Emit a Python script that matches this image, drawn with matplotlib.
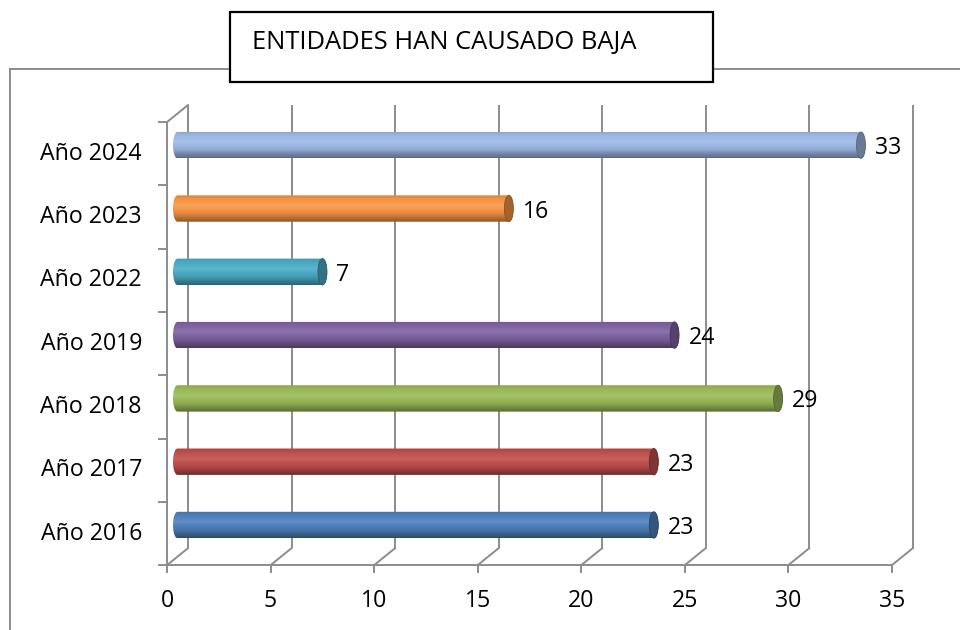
import numpy as np
import matplotlib
matplotlib.use("Agg")
import matplotlib.pyplot as plt
from matplotlib.patches import Rectangle, Ellipse, PathPatch
from matplotlib.path import Path
from matplotlib.lines import Line2D
from matplotlib.colors import to_rgb

# ---- data ----
categories = ["Año 2016", "Año 2017", "Año 2018", "Año 2019", "Año 2022", "Año 2023", "Año 2024"]
values = [23, 23, 29, 24, 7, 16, 33]
colors = ["#4F81BD", "#C0504D", "#9BBB59", "#8064A2", "#4BACC6", "#F79646", "#9DB9E4"]
xticks = [0, 5, 10, 15, 20, 25, 30, 35]
title = "ENTIDADES HAN CAUSADO BAJA"

FONT = ["Open Sans", "DejaVu Sans"]
FS = 16.7
W, H = 960, 630
fig = plt.figure(figsize=(W / 100, H / 100), dpi=100)
fig.patch.set_facecolor("white")

# axes covering whole figure; data units = values (x) and category index (y)
px_per_x = 20.71
px_per_y = 63.3
x0_px = 177.5      # pixel of value 0 on mid-depth plane
y0_py = 525.0      # pixel (from top) of category 0 center on mid plane
ax = fig.add_axes([0, 0, 1, 1])
xlim = (-x0_px / px_per_x, (W - x0_px) / px_per_x)
ylim = ((y0_py - H) / px_per_y, y0_py / px_per_y)
ax.set_axis_off()

hdx = 10.5 / px_per_x   # half depth offset (x)
hdy = 8.5 / px_per_y    # half depth offset (y)
n = len(categories)
xmax = xticks[-1]
gc = "#8C8C8C"
glw = 1.4

# back wall vertical gridlines + floor diagonals + front baseline ticks
yb = -0.5
ytop = n - 0.5
for t in xticks:
    ax.plot([t + hdx, t + hdx], [yb + hdy, ytop + hdy], color=gc, lw=glw, zorder=1, solid_capstyle="butt")
    ax.plot([t - hdx, t + hdx], [yb - hdy, yb + hdy], color=gc, lw=glw, zorder=1)
    ax.plot([t - hdx, t - hdx], [yb - hdy, yb - hdy - 7 / px_per_y], color=gc, lw=glw, zorder=1)
    ax.text(t - hdx, yb - hdy - 36 / px_per_y, str(t), ha="center", va="center",
            fontsize=FS, family=FONT, color="black")
# front baseline
ax.plot([-hdx, xmax - hdx], [yb - hdy, yb - hdy], color=gc, lw=glw, zorder=1)
# left wall
ax.plot([-hdx, -hdx], [yb - hdy, ytop - hdy], color=gc, lw=glw, zorder=1)
ax.plot([-hdx, hdx], [ytop - hdy, ytop + hdy], color=gc, lw=glw, zorder=1)
for k in range(n + 1):
    yk = k - 0.5 - hdy
    ax.plot([-hdx - 8 / px_per_x, -hdx], [yk, yk], color=gc, lw=glw, zorder=1)

# category labels (front plane band centres)
for i, c in enumerate(categories):
    ax.text(-hdx - 25 / px_per_x, i - hdy, c, ha="right", va="center",
            fontsize=FS, family=FONT, color="black")

# cylinders
half_h = 13.2 / px_per_y
cap_w = 4.5 / px_per_x

def shade(rgb, f):
    rgb = np.array(rgb)
    if f >= 1:
        return rgb + (1 - rgb) * (f - 1) * 1.5
    return rgb * f

prof_t = [0.0, 0.05, 0.12, 0.4, 0.7, 0.9, 1.0]
prof_f = [0.95, 0.9, 0.97, 1.07, 0.9, 0.68, 0.58]
tt = np.linspace(0, 1, 64)
ff = np.interp(tt, prof_t, prof_f)

for i, (v, col) in enumerate(zip(values, colors)):
    base = to_rgb(col)
    grad = np.array([np.clip(shade(base, f), 0, 1) for f in ff]).reshape(-1, 1, 3)
    th = np.linspace(np.pi / 2, 3 * np.pi / 2, 30)
    left = np.column_stack([0 + cap_w * np.cos(th), i + half_h * np.sin(th)])
    th2 = np.linspace(-np.pi / 2, np.pi / 2, 30)
    right = np.column_stack([v + cap_w * np.cos(th2), i + half_h * np.sin(th2)])
    verts = np.vstack([left, right, left[:1]])
    codes = [Path.MOVETO] + [Path.LINETO] * (len(verts) - 2) + [Path.CLOSEPOLY]
    body = PathPatch(Path(verts, codes), facecolor="none", edgecolor="none", zorder=3)
    ax.add_patch(body)
    im = ax.imshow(grad, extent=[-cap_w, v + cap_w, i - half_h, i + half_h],
                   origin="upper", aspect="auto", zorder=3, interpolation="bilinear")
    im.set_clip_path(body)
    capcol = np.clip(np.array(base) * 0.66, 0, 1)
    ax.add_patch(Ellipse((v, i), 2 * cap_w, 2 * half_h, facecolor=capcol,
                         edgecolor=np.array(base) * 0.55, lw=0.6, zorder=4))
    ax.text(v + 14 / px_per_x, i - 3 / px_per_y, str(v), ha="left", va="center",
            fontsize=FS, family=FONT, color="black", zorder=5)

ax.set_xlim(*xlim)
ax.set_ylim(*ylim)

# outer chart border (left + top)
fig.add_artist(Line2D([9.5 / W, 9.5 / W], [0, 1 - 69 / H], color=gc, lw=1.4))
fig.add_artist(Line2D([9.5 / W, 1], [1 - 69 / H, 1 - 69 / H], color=gc, lw=1.4))

# title box
fig.add_artist(Rectangle((230 / W, 1 - 82 / H), (713 - 230) / W, 70 / H,
                         facecolor="white", edgecolor="black", lw=1.6,
                         transform=fig.transFigure, zorder=10))
fig.text(252 / W, 1 - 42 / H, title, ha="left", va="center", fontsize=18.4,
         family=FONT, color="black", zorder=11)

fig.savefig("out.png", dpi=100, facecolor="white")
